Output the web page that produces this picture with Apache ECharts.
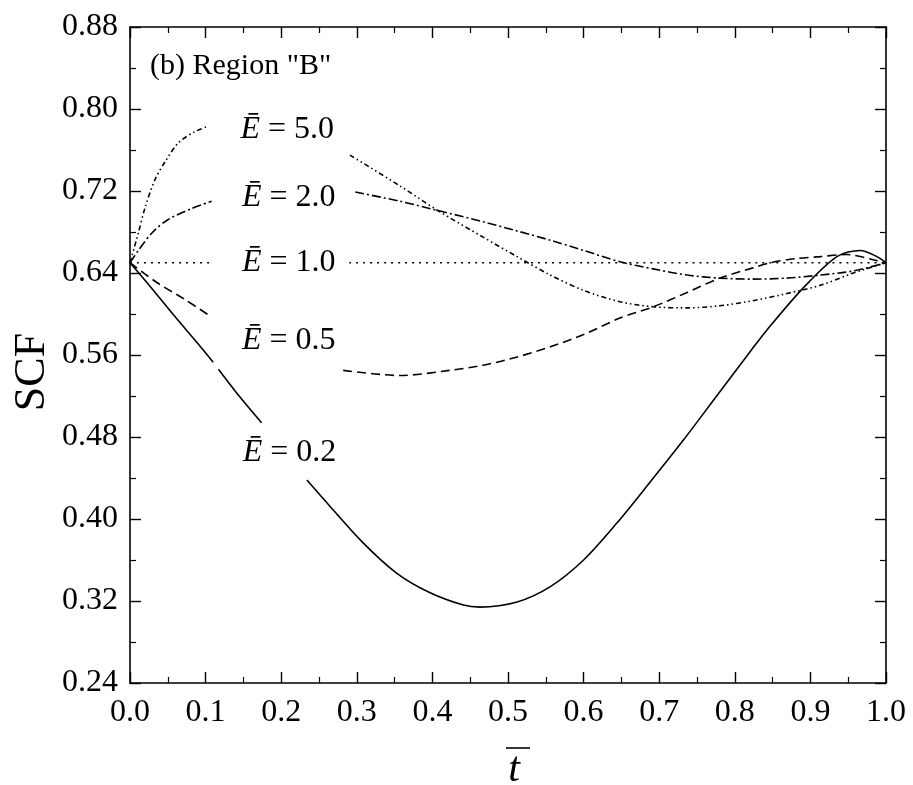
<!DOCTYPE html>
<html>
<head>
<meta charset="utf-8">
<script src="https://cdn.jsdelivr.net/npm/echarts@6/dist/echarts.min.js"></script>
<style>
html,body{margin:0;padding:0;background:#fff;}
#chart{width:913px;height:785px;}
</style>
</head>
<body>
<div id="chart"></div>
<script>
// ---- data ('-' marks a gap in the curve) ----
const tE50 = [0, 0.011, 0.020, 0.033, 0.046, 0.064, 0.086, 0.103, 0.2, 0.291, 0.357, 0.407, 0.467, 0.512, 0.556, 0.60, 0.648, 0.692, 0.737, 0.780, 0.824, 0.869, 0.913, 0.957, 1.0];
const sE50 = [0.65, 0.679, 0.704, 0.731, 0.748, 0.767, 0.778, 0.783, '-', 0.755, 0.725, 0.701, 0.675, 0.656, 0.638, 0.623, 0.612, 0.607, 0.606, 0.608, 0.613, 0.620, 0.628, 0.640, 0.65];

const tE20 = [0, 0.011, 0.029, 0.050, 0.082, 0.108, 0.2, 0.298, 0.357, 0.407, 0.467, 0.512, 0.556, 0.60, 0.648, 0.692, 0.737, 0.780, 0.824, 0.869, 0.913, 0.957, 1.0];
const sE20 = [0.65, 0.662, 0.679, 0.692, 0.703, 0.710, '-', 0.719, 0.710, 0.701, 0.690, 0.681, 0.672, 0.662, 0.651, 0.644, 0.638, 0.635, 0.634, 0.635, 0.638, 0.642, 0.65];

const tE10 = [0, 0.11, 0.2, 0.29, 1.0];
const sE10 = [0.65, 0.65, '-', 0.65, 0.65];

const tE05 = [0, 0.037, 0.073, 0.108, 0.2, 0.282, 0.357, 0.423, 0.467, 0.512, 0.556, 0.60, 0.648, 0.692, 0.737, 0.780, 0.824, 0.847, 0.880, 0.913, 0.948, 0.983, 1.0];
const sE05 = [0.65, 0.630, 0.614, 0.597, '-', 0.545, 0.540, 0.545, 0.550, 0.558, 0.568, 0.580, 0.596, 0.607, 0.621, 0.635, 0.645, 0.650, 0.654, 0.656, 0.658, 0.653, 0.65];

const tE02 = [0, 0.03, 0.06, 0.09, 0.110, 0.113, 0.117, 0.14, 0.174, 0.2, 0.234, 0.265, 0.308, 0.353, 0.397, 0.441, 0.463, 0.512, 0.556, 0.60, 0.644, 0.688, 0.732, 0.776, 0.82, 0.842, 0.89, 0.935, 0.966, 0.988, 1.0];
const sE02 = [0.65, 0.624, 0.597, 0.571, 0.553, '-', 0.546, 0.524, 0.494, '-', 0.438, 0.412, 0.377, 0.347, 0.328, 0.316, 0.314, 0.319, 0.334, 0.360, 0.396, 0.436, 0.477, 0.520, 0.563, 0.584, 0.625, 0.656, 0.662, 0.656, 0.65];

const labelNames = ['5.0', '2.0', '1.0', '0.5', '0.2'];
const labelT = [0.208, 0.210, 0.210, 0.210, 0.211];
const labelV = [0.780, 0.714, 0.650, 0.574, 0.465];

const xTicks = [0, 1, 0.1];        // min, max, interval
const yTicks = [0.24, 0.88, 0.08]; // min, max, interval

// ---- build ----
function pairs(ts, vs) { return ts.map((t, i) => [t, vs[i]]); }

const FONT = '"Liberation Serif", "Times New Roman", serif';
const black = '#000';

const chart = echarts.init(document.getElementById('chart'), null, {renderer: 'canvas'});

const axisCommon = {
  type: 'value',
  axisLine: {show: true, onZero: false, lineStyle: {color: black, width: 1.6}},
  axisTick: {show: true, inside: true, length: 11, lineStyle: {color: black, width: 1.4}},
  minorTick: {show: true, splitNumber: 2, length: 6, lineStyle: {color: black, width: 1.2}},
  splitLine: {show: false},
  minorSplitLine: {show: false}
};

function lineSeries(name, data, dash) {
  return {
    name: name, type: 'line', data: data, showSymbol: false, symbol: 'none',
    smooth: 0.3, connectNulls: false, silent: true,
    lineStyle: {color: black, width: 1.6, type: dash},
    xAxisIndex: 0, yAxisIndex: 0, z: 3
  };
}

const richBase = {color: black, textBorderWidth: 0, textBorderColor: 'transparent', textShadowBlur: 0};

const option = {
  backgroundColor: '#fff',
  animation: false,
  grid: {left: 130, right: 27, top: 27, bottom: 102, containLabel: false},
  xAxis: [
    Object.assign({}, axisCommon, {
      position: 'bottom', min: xTicks[0], max: xTicks[1], interval: xTicks[2],
      axisLabel: {show: true, margin: 14, color: black, fontFamily: FONT, fontSize: 32,
        formatter: v => v.toFixed(1)}
    }),
    Object.assign({}, axisCommon, {
      position: 'top', min: xTicks[0], max: xTicks[1], interval: xTicks[2],
      axisLabel: {show: false}
    })
  ],
  yAxis: [
    Object.assign({}, axisCommon, {
      position: 'left', min: yTicks[0], max: yTicks[1], interval: yTicks[2],
      axisLabel: {show: true, margin: 12, color: black, fontFamily: FONT, fontSize: 32,
        formatter: v => v.toFixed(2)}
    }),
    Object.assign({}, axisCommon, {
      position: 'right', min: yTicks[0], max: yTicks[1], interval: yTicks[2],
      axisLabel: {show: false}
    })
  ],
  series: [
    lineSeries('E=5.0', pairs(tE50, sE50), [5, 3, 1.5, 3, 1.5, 3]),
    lineSeries('E=2.0', pairs(tE20, sE20), [9, 3, 2, 3]),
    lineSeries('E=1.0', pairs(tE10, sE10), [2, 5]),
    lineSeries('E=0.5', pairs(tE05, sE05), [9, 5]),
    lineSeries('E=0.2', pairs(tE02, sE02), 'solid'),
    {
      name: 'labels', type: 'scatter', symbolSize: 0, silent: true, z: 5,
      itemStyle: {color: black, opacity: 0},
      data: labelNames.map((n, i) => ({value: [labelT[i], labelV[i]], name: n})),
      label: {
        show: true, position: [0, 0], align: 'center', verticalAlign: 'middle',
        color: black, opacity: 1, textBorderWidth: 0, textBorderColor: 'transparent',
        formatter: p => '{e|Ē}{n| = ' + p.name + '}',
        rich: {
          e: Object.assign({fontFamily: FONT, fontStyle: 'italic', fontSize: 32}, richBase),
          n: Object.assign({fontFamily: FONT, fontSize: 32}, richBase)
        }
      }
    }
  ],
  graphic: [
    {type: 'text', left: 150, top: 51, style: {text: '(b) Region "B"', font: '30px ' + FONT, fill: black}},
    {type: 'text', x: 32, y: 372, rotation: Math.PI / 2,
      style: {text: 'SCF', font: '44px ' + FONT, fill: black, align: 'center', verticalAlign: 'middle'}},
    {type: 'text', x: 514, y: 770,
      style: {text: 't', font: 'italic 42px ' + FONT, fill: black, align: 'center', verticalAlign: 'middle'}},
    {type: 'line', shape: {x1: 506, y1: 748, x2: 530, y2: 748}, style: {stroke: black, lineWidth: 1.6}}
  ]
};

chart.setOption(option);
</script>
</body>
</html>
